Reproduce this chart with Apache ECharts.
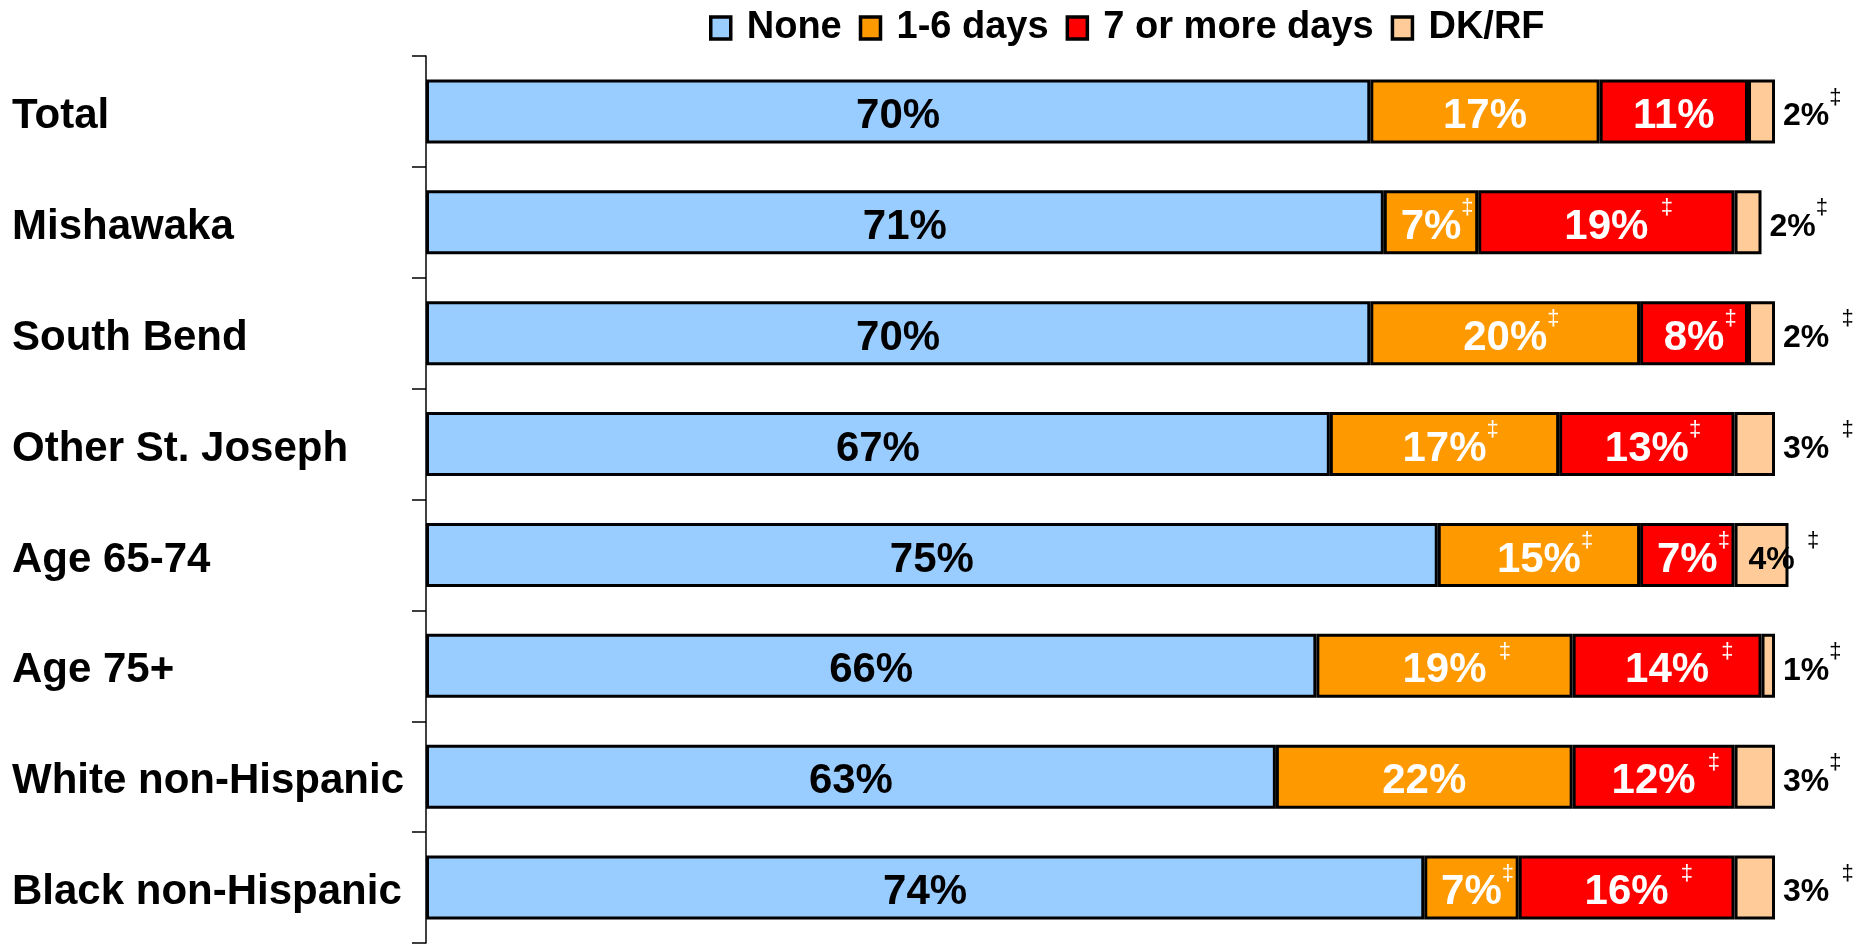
<!DOCTYPE html>
<html>
<head>
<meta charset="utf-8">
<script src="https://cdn.jsdelivr.net/npm/echarts@6/dist/echarts.min.js"></script>
<style>
html,body{margin:0;padding:0;background:#fff;}
#chart{width:1865px;height:948px;}
</style>
</head>
<body>
<div id="chart"></div>
<script>
// ---- data ----
var categories = ['Total', 'Mishawaka', 'South Bend', 'Other St. Joseph', 'Age 65-74', 'Age 75+', 'White non-Hispanic', 'Black non-Hispanic'];
var seriesNames = ['None', '1-6 days', '7 or more days', 'DK/RF'];
var noneVals = [70, 71, 70, 67, 75, 66, 63, 74];
var days16Vals = [17, 7, 20, 17, 15, 19, 22, 7];
var days7Vals = [11, 19, 8, 13, 7, 14, 12, 16];
var dkVals = [2, 2, 2, 3, 4, 1, 3, 3];
// significance marks ('' none, 't' tight dagger, 's' spaced dagger)
var noneMarks = ['', '', '', '', '', '', '', ''];
var days16Marks = ['', 't', 't', 't', 't', 's', '', 't'];
var days7Marks = ['', 's', 't', 't', 't', 's', 's', 's'];
var dkMarks = ['t', 't', 's', 's', 's', 't', 't', 's'];

var FONT = '"Liberation Sans", Arial, sans-serif';

function markText(m) {
  if (m === 't') return '‡';
  if (m === 's') return '  ‡';
  return '';
}

function makeRich(color, size) {
  return {
    v: {fontSize: size, fontWeight: 'bold', color: color, fontFamily: FONT, lineHeight: 60},
    d: {fontSize: 22, color: color, fontFamily: FONT, lineHeight: 22, verticalAlign: 'top'},
    p: {fontSize: 22, color: 'transparent', fontFamily: FONT, lineHeight: 22, verticalAlign: 'top'}
  };
}

function makeFormatter(marks, balance) {
  return function (p) {
    var m = markText(marks[p.dataIndex]);
    var s = '{v|' + p.value + '%}';
    if (m) {
      s = (balance ? '{p|' + m + '}' : '') + s + '{d|' + m + '}';
    }
    return s;
  };
}

var colors = ['#99CCFF', '#FF9900', '#FF0000', '#FFCC99'];
var allVals = [noneVals, days16Vals, days7Vals, dkVals];
var allMarks = [noneMarks, days16Marks, days7Marks, dkMarks];
var labelColors = ['#000000', '#FFFFFF', '#FFFFFF', '#000000'];

var series = seriesNames.map(function (name, si) {
  var isDK = si === 3;
  var data = allVals[si].map(function (v, i) {
    if (isDK && categories[i] === 'Age 65-74') {
      return {value: v, label: {position: 'insideLeft', distance: 14}};
    }
    return v;
  });
  return {
    name: name,
    type: 'bar',
    stack: 'total',
    barWidth: 64,
    clip: false,
    data: data,
    itemStyle: {color: colors[si], borderColor: '#000', borderWidth: 3},
    label: {
      show: true,
      position: isDK ? 'right' : 'inside',
      distance: isDK ? 8 : 5,
      offset: [0, 5],
      formatter: makeFormatter(allMarks[si], !isDK),
      rich: makeRich(labelColors[si], isDK ? 32 : 42)
    }
  };
});

var chart = echarts.init(document.getElementById('chart'), null, {renderer: 'canvas'});
chart.setOption({
  animation: false,
  backgroundColor: '#fff',
  legend: {
    left: 704,
    top: 4,
    icon: 'rect',
    itemWidth: 20,
    itemHeight: 22,
    itemGap: 17,
    itemStyle: {borderColor: '#000', borderWidth: 3.5},
    textStyle: {fontSize: 38, fontWeight: 'bold', color: '#000', fontFamily: FONT, padding: [0, 0, 0, 11]},
    data: seriesNames
  },
  grid: {left: 426, right: 90, top: 56, bottom: 5, containLabel: false},
  xAxis: {type: 'value', min: 0, max: 100, show: false},
  yAxis: {
    type: 'category',
    inverse: true,
    data: categories,
    axisLine: {show: true, lineStyle: {color: '#000', width: 1.5}},
    axisTick: {show: true, length: 14, lineStyle: {color: '#000', width: 1.5}},
    axisLabel: {
      align: 'left',
      verticalAlign: 'top',
      lineHeight: 10,
      margin: 414,
      fontSize: 42,
      fontWeight: 'bold',
      color: '#000',
      fontFamily: FONT
    }
  },
  series: series
});
</script>
</body>
</html>
